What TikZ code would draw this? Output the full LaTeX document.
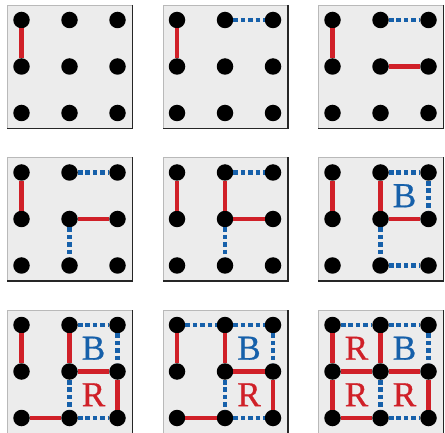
\documentclass[tikz,border=0pt]{standalone}
\usepackage{fontspec}
\setmainfont{Liberation Serif}[FakeBold=0.8]
\usetikzlibrary{calc}
\definecolor{movered}{RGB}{208,32,40}
\definecolor{moveblue}{RGB}{22,96,170}
\definecolor{boardgray}{RGB}{236,236,236}
\begin{document}
\begin{tikzpicture}[
    x=1pt, y=-1pt,
    board/.style={draw=gray!55, line width=0.6pt, fill=boardgray, minimum width=125pt, minimum height=123pt, inner sep=0pt, anchor=north west},
    dot/.style={circle, fill=black, minimum size=16.5pt, inner sep=0pt},
    redline/.style={movered, line width=4.5pt},
    blueline/.style={moveblue, line width=4.8pt, dash pattern=on 4.6pt off 2.8pt},
    owner/.style={font=\fontsize{35}{35}\selectfont, text=#1, inner sep=0pt}
]
\useasboundingbox (0,0) rectangle (445,433);

% Boards and their dots (b<board>-<col><row>)
\foreach \b in {1,...,9} {
  \pgfmathsetmacro{\bx}{7+155.5*mod(\b-1,3)}
  \pgfmathsetmacro{\by}{5+152.5*div(\b-1,3)}
  \node[board] (board\b) at (\bx,\by) {};
  \draw[black!85, line width=1.6pt] (board\b.north east) -- (board\b.south east) -- (board\b.south west);
  \foreach \c in {0,1,2}
    \foreach \r in {0,1,2}
      \node[dot] (b\b-\c\r) at (\bx+14.5+48*\c, \by+15+46.5*\r) {};
}

% Red moves (from/to/first board)
\foreach \from/\to/\first in {00/01/1, 11/21/3, 10/11/5, 21/22/7, 02/12/7, 01/11/9, 01/02/9}
  \foreach \b in {\first,...,9}
    \draw[redline] (b\b-\from) -- (b\b-\to);

% Blue moves
\foreach \from/\to/\first in {10/20/2, 11/12/4, 20/21/6, 12/22/6, 00/10/8}
  \foreach \b in {\first,...,9}
    \draw[blueline] (b\b-\from) -- (b\b-\to);

% Completed boxes
\foreach \tl/\br/\letter/\col/\first in {10/21/B/moveblue/6, 11/22/R/movered/7, 00/11/R/movered/9, 01/12/R/movered/9}
  \foreach \b in {\first,...,9}
    \node[owner=\col] (own\b-\tl) at ($(b\b-\tl)!0.5!(b\b-\br)$) {\letter};
\end{tikzpicture}
\end{document}
